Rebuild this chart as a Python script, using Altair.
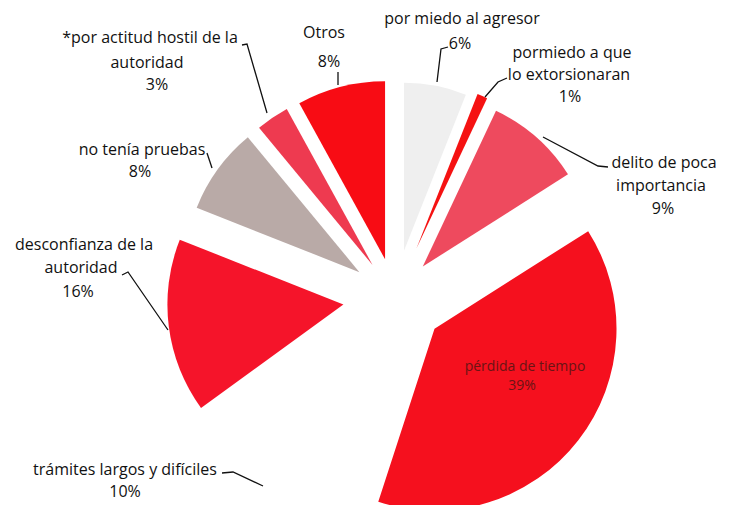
import altair as alt
import pandas as pd

# ---- data (clockwise from 12 o'clock) ----
categories = [
    "por miedo al agresor",
    "pormiedo a que lo extorsionaran",
    "delito de poca importancia",
    "pérdida de tiempo",
    "trámites largos y difíciles",
    "desconfianza de la autoridad",
    "no tenía pruebas",
    "por actitud hostil de la autoridad",
    "Otros",
]
values = [6, 1, 9, 39, 10, 16, 8, 3, 8]

# ---- styling ----
colors = ["#efefef", "#f51212", "#ee4a5e", "#f5101e", "#ffffff",
          "#f5142a", "#b9aaa7", "#ee3a50", "#f80c14"]
explode = [48, 54, 42, 50, 50, 52, 44, 40, 40]
radii = [168, 166, 172, 182, 175, 176, 175, 178, 178]
CX, CY = 387, 290

df = pd.DataFrame({
    "cat": categories, "value": values, "color": colors,
    "explode": explode, "r": radii, "order": list(range(len(values))),
})

arcs = (
    alt.Chart(df)
    .transform_window(cum="sum(value)", sort=[{"field": "order"}])
    .transform_joinaggregate(total="sum(value)")
    .transform_calculate(
        t0="2*PI*(datum.cum-datum.value)/datum.total",
        t1="2*PI*datum.cum/datum.total",
    )
    .transform_calculate(mid="(datum.t0+datum.t1)/2")
    .transform_calculate(
        px=f"{CX}+datum.explode*sin(datum.mid)",
        py=f"{CY}-datum.explode*cos(datum.mid)",
    )
    .mark_arc()
    .encode(
        theta=alt.Theta("t0:Q", scale=None),
        theta2="t1:Q",
        radius=alt.Radius("r:Q", scale=None),
        x=alt.X("px:Q", scale=None),
        y=alt.Y("py:Q", scale=None),
        color=alt.Color("color:N", scale=None),
    )
)

# ---- annotation text (page coords minus 8px margin) ----
label_text = [
    "por miedo al agresor", "6%",
    "pormiedo a que", "lo extorsionaran", "1%",
    "delito de poca", "importancia", "9%",
    "pérdida de tiempo", "39%",
    "trámites largos y difíciles", "10%",
    "desconfianza de la", "autoridad", "16%",
    "no tenía pruebas", "8%",
    "*por actitud hostil de la", "autoridad", "3%",
    "Otros", "8%",
]
label_x = [462, 460, 572, 569, 570, 664, 661, 663, 525, 522, 125, 125,
           84, 81, 78, 142, 140, 150, 147, 157, 324, 329]
label_y = [19, 44, 53, 75, 97, 163, 186, 209, 367, 386, 470, 492,
           245, 268, 292, 150, 172, 38, 63, 85, 33, 62]
label_color = ["#111111"] * 8 + ["#6a1414", "#6a1414"] + ["#111111"] * 12
label_size = [16] * 8 + [14, 14] + [16] * 12

tdf = pd.DataFrame({
    "t": label_text,
    "x": [v - 8 for v in label_x],
    "y": [v - 8 for v in label_y],
    "c": label_color,
    "fs": label_size,
})

texts = alt.Chart(tdf).mark_text(
    font="Open Sans", align="center", baseline="middle"
).encode(
    x=alt.X("x:Q", scale=None),
    y=alt.Y("y:Q", scale=None),
    text="t:N",
    color=alt.Color("c:N", scale=None),
    size=alt.Size("fs:Q", scale=None),
)

# ---- leader lines ----
leaders = {
    "a": [(448, 47), (441, 49), (437, 82)],
    "b": [(507, 78), (498, 82), (485, 97)],
    "c": [(608, 167), (598, 166), (543, 137)],
    "e": [(222, 473), (233, 472), (263, 486)],
    "f": [(122, 275), (128, 272), (168, 330)],
    "g": [(207, 153), (212, 168)],
    "h": [(242, 45), (247, 44), (267, 113)],
    "i": [(338, 72), (338, 85)],
}
rows = []
for k, pts in leaders.items():
    for j, (x, y) in enumerate(pts):
        rows.append({"id": k, "k": j, "x": x - 8, "y": y - 8})
ldf = pd.DataFrame(rows)

lines = alt.Chart(ldf).mark_line(color="#111111", strokeWidth=1.3).encode(
    x=alt.X("x:Q", scale=None),
    y=alt.Y("y:Q", scale=None),
    detail="id:N",
    order="k:Q",
)

chart = (
    alt.layer(arcs, lines, texts)
    .properties(width=714, height=497, autosize="none", padding=0)
    .configure_view(stroke=None)
)

chart.save("out.html", embed_options={"renderer": "svg", "actions": False})
